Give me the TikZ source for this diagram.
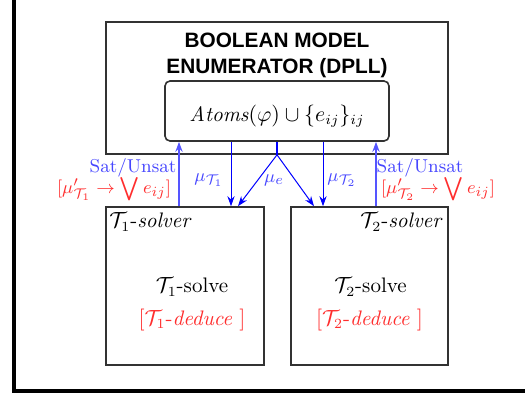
\documentclass[tikz,border=0pt]{standalone}
\usepackage{fontspec}
\usepackage{amsmath}
\usepackage{graphicx}
\usetikzlibrary{arrows.meta,calc}
\newfontfamily\titlefamily{Liberation Sans}[BoldFont={Liberation Sans Bold}]
\definecolor{txtblue}{RGB}{70,70,255}
\definecolor{txtred}{RGB}{255,45,45}
\definecolor{satblue}{RGB}{85,85,255}
\definecolor{boxgray}{RGB}{50,50,50}
\newcommand{\bigor}{\mathop{\raisebox{-0.15ex}{\scalebox{1.3}{$\bigvee$}}}}
\begin{document}
\begin{tikzpicture}[x=0.5pt,y=-0.5pt,
  box/.style={draw=boxgray,line width=0.8pt,inner sep=0pt},
  lbl/.style={inner sep=0pt,font=\fontsize{10.5}{12.6}\selectfont},
  clbl/.style={inner sep=0pt,font=\fontsize{9.3}{11}\selectfont},
  tip/.style={-{Stealth[length=5pt,width=3.6pt]}},
  satline/.style={tip,draw=satblue,fill=satblue,line width=0.8pt},
  muline/.style={tip,draw=blue,line width=0.5pt}]
\useasboundingbox (0,0) rectangle (525,397);
% frame
\draw[line width=2pt] (14,0) -- (14,391) -- (525,391);
% boxes
\node[box,minimum width=171pt,minimum height=66pt] (main) at (277,88) {};
\node[box,rounded corners=2.5pt,minimum width=112pt,minimum height=30pt] (inner) at (277,111) {};
\node[box,minimum width=79pt,minimum height=79pt] (s1) at (185,286) {};
\node[box,minimum width=78.5pt,minimum height=79pt] (s2) at (369.5,286) {};
% title
\node[inner sep=0pt,align=center,font=\titlefamily\bfseries\fontsize{10.4}{13}\selectfont] (title) at (277,55) {BOOLEAN MODEL\\ENUMERATOR (DPLL)};
\node[lbl] (atoms) at (277,116) {$\mathit{Atoms}(\varphi)\cup\{e_{ij}\}_{ij}$};
% solver texts
\node[lbl,anchor=west] (s1name) at (109,222) {$\mathcal{T}_1$-\textit{solver}};
\node[lbl,anchor=east] (s2name) at (443,222) {$\mathcal{T}_2$-\textit{solver}};
\node[lbl] (s1solve) at (192,287) {$\mathcal{T}_1$-solve};
\node[lbl,text=txtred] (s1ded) at (192,320) {$[\mathcal{T}_1$-\textit{deduce}~$]$};
\node[lbl] (s2solve) at (370.5,287) {$\mathcal{T}_2$-solve};
\node[lbl,text=txtred] (s2ded) at (369.5,320) {$[\mathcal{T}_2$-\textit{deduce}~$]$};
% connectors
\draw[satline] (s1.north -| 179,0) -- (inner.south -| 179,0);
\draw[satline] (s2.north -| 376,0) -- (inner.south -| 376,0);
\draw[muline] (inner.south -| 231,0) -- (s1.north -| 231,0);
\draw[muline] (inner.south -| 323,0) -- (s2.north -| 323,0);
\coordinate (split) at (main.south -| inner.south);
\draw[blue,line width=0.9pt] (inner.south) -- (split);
\draw[muline] (split) -- (s1.north -| 238,0);
\draw[muline] (split) -- (s2.north -| 314,0);
% labels
\node[clbl,text=txtblue] (sat1) at (133,168) {Sat/Unsat};
\node[clbl,text=txtred] (cl1) at (114,189) {$[\mu'_{\mathcal{T}_1}\rightarrow\bigor e_{ij}]$};
\node[clbl,text=txtblue] (sat2) at (420,168) {Sat/Unsat};
\node[clbl,text=txtred] (cl2) at (438,189) {$[\mu'_{\mathcal{T}_2}\rightarrow\bigor e_{ij}]$};
\node[clbl,text=txtblue] (mu1) at (209,180) {$\mu_{\mathcal{T}_1}$};
\node[clbl,text=txtblue] (mue) at (274,180) {$\mu_e$};
\node[clbl,text=txtblue] (mu2) at (342,180) {$\mu_{\mathcal{T}_2}$};
\end{tikzpicture}
\end{document}
